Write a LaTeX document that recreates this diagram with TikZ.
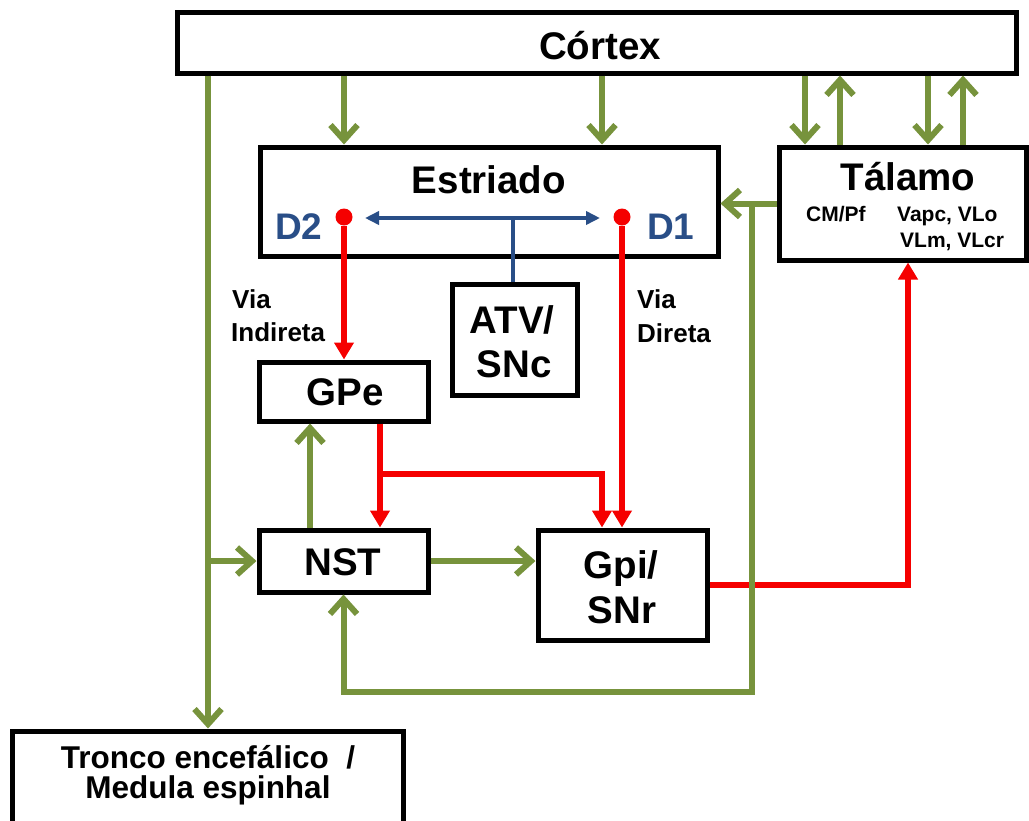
\documentclass[tikz,border=0pt]{standalone}
\usepackage{fontspec}
\setmainfont{Liberation Sans}
\usetikzlibrary{arrows.meta,calc}
\definecolor{vgreen}{RGB}{119,147,60}
\definecolor{vred}{RGB}{245,0,0}
\definecolor{vblue}{RGB}{41,78,135}
\tikzset{
  box/.style={draw=black, line width=5pt, inner sep=0pt, fill=white},
  garrow/.style={draw=vgreen, line width=6pt, -{Straight Barb[length=15pt,width=27pt]}},
  rarrow/.style={draw=vred, line width=5.5pt, -{Triangle[length=17pt,width=19pt]}},
  barrow/.style={draw=vblue, line width=3.5pt, -{Triangle[length=14pt,width=13pt]}},
  bline/.style={draw=vblue, line width=3.5pt},
  big/.style={anchor=base, inner sep=0pt, font=\bfseries\fontsize{38.5}{38.5}\selectfont},
  dlbl/.style={anchor=base west, inner sep=0pt, text=vblue, font=\bfseries\fontsize{37}{37}\selectfont},
  small/.style={anchor=base west, inner sep=0pt, font=\bfseries\fontsize{21}{21}\selectfont},
  via/.style={anchor=base west, inner sep=0pt, font=\bfseries\fontsize{26}{26}\selectfont},
  tron/.style={anchor=base, inner sep=0pt, font=\bfseries\fontsize{31.5}{31.5}\selectfont},
  dot/.style={circle, fill=vred, inner sep=0pt, minimum size=17pt},
}
\begin{document}
\begin{tikzpicture}[x=1pt,y=-1pt]
\useasboundingbox (0,0) rectangle (1029,820);
\clip (0,0) rectangle (1029,820);
% columns
\coordinate (c208) at (208,0);
\coordinate (c310) at (310,0);
\coordinate (c380) at (380,0);
\coordinate (c513) at (513,0);
\coordinate (c602) at (602,0);
\coordinate (c805) at (805,0);
\coordinate (c840) at (840,0);
\coordinate (c928) at (928,0);
\coordinate (c963) at (963,0);
\coordinate (c908) at (908,0);
\coordinate (r474) at (0,474);
\coordinate (fb) at (752,692);

% boxes
\node[box, minimum width=839pt, minimum height=61pt] (cortex) at (596.5,42.5) {};
\node[box, minimum width=458pt, minimum height=109pt] (estriado) at (489,201.5) {};
\node[box, minimum width=247pt, minimum height=113pt] (talamo) at (902.5,203.5) {};
\node[box, minimum width=125pt, minimum height=111pt] (atv) at (514.5,339.5) {};
\node[box, minimum width=169pt, minimum height=59pt] (gpe) at (343.5,391.5) {};
\node[box, minimum width=169pt, minimum height=62pt] (nst) at (343.5,561) {};
\node[box, minimum width=169pt, minimum height=110pt] (gpi) at (622.5,585) {};
\node[box, minimum width=391pt, minimum height=94pt] (tronco) at (207.5,778) {};

% texts
\node[big] (tcortex) at (600,59) {Córtex};
\node[big] (testriado) at (489,193) {Estriado};
\node[dlbl] (td2) at (275,239) {D2};
\node[dlbl] (td1) at (647,239) {D1};
\node[big] (ttalamo) at (908,190) {Tálamo};
\node[small] (tcm) at (806,221) {CM/Pf};
\node[small] (tva) at (897,221) {Vapc, VLo};
\node[small] (tvl) at (900,247) {VLm, VLcr};
\node[big] (tatv1) at (512,333) {ATV/};
\node[big] (tatv2) at (514,377) {SNc};
\node[big] (tgpe) at (345,405) {GPe};
\node[big] (tnst) at (343,575) {NST};
\node[big] (tgpi1) at (621,578) {Gpi/};
\node[big] (tgpi2) at (622,623) {SNr};
\node[tron] (ttr1) at (208,768) {Tronco encefálico \ /};
\node[tron] (ttr2) at (208,798) {Medula espinhal};
\node[via] (tvia1) at (232,308) {Via};
\node[via] (tind) at (231,341) {Indireta};
\node[via] (tvia2) at (637,308) {Via};
\node[via] (tdir) at (637,342) {Direta};

% dots
\node[dot] (d2dot) at (344,217) {};
\node[dot] (d1dot) at (622,217) {};
\coordinate (bj) at (513,218);
\coordinate (btl) at (365,218);
\coordinate (btr) at (600,218);

% blue dopamine arrows
\draw[bline] (atv.north -| c513) -- (bj);
\draw[barrow] (bj) -- (btl);
\draw[barrow] (bj) -- (btr);

% red connectors
\draw[rarrow] (d2dot) -- (d2dot |- gpe.north);
\draw[rarrow] (d1dot) -- (d1dot |- gpi.north);
\draw[rarrow] (c380 |- gpe.south) -- (c380 |- nst.north);
\draw[rarrow] (c380 |- r474) -| (c602 |- gpi.north);
\draw[rarrow] (gpi.east) -| (c908 |- talamo.south);

% green connectors
\draw[garrow] (c208 |- cortex.south) -- (c208 |- tronco.north);
\draw[garrow] (c208 |- nst.west) -- (nst.west);
\draw[garrow] (d2dot |- cortex.south) -- (d2dot |- estriado.north);
\draw[garrow] (c602 |- cortex.south) -- (c602 |- estriado.north);
\draw[garrow] (c805 |- cortex.south) -- (c805 |- talamo.north);
\draw[garrow] (c840 |- talamo.north) -- (c840 |- cortex.south);
\draw[garrow] (c928 |- cortex.south) -- (c928 |- talamo.north);
\draw[garrow] (c963 |- talamo.north) -- (c963 |- cortex.south);
\draw[garrow] (talamo.west) -- (estriado.east |- talamo.west);
\draw[garrow] (fb |- talamo.west) -- (fb) -| (nst.south);
\draw[garrow] (c310 |- nst.north) -- (c310 |- gpe.south);
\draw[garrow] (nst.east) -- (gpi.west |- nst.east);
\end{tikzpicture}
\end{document}
